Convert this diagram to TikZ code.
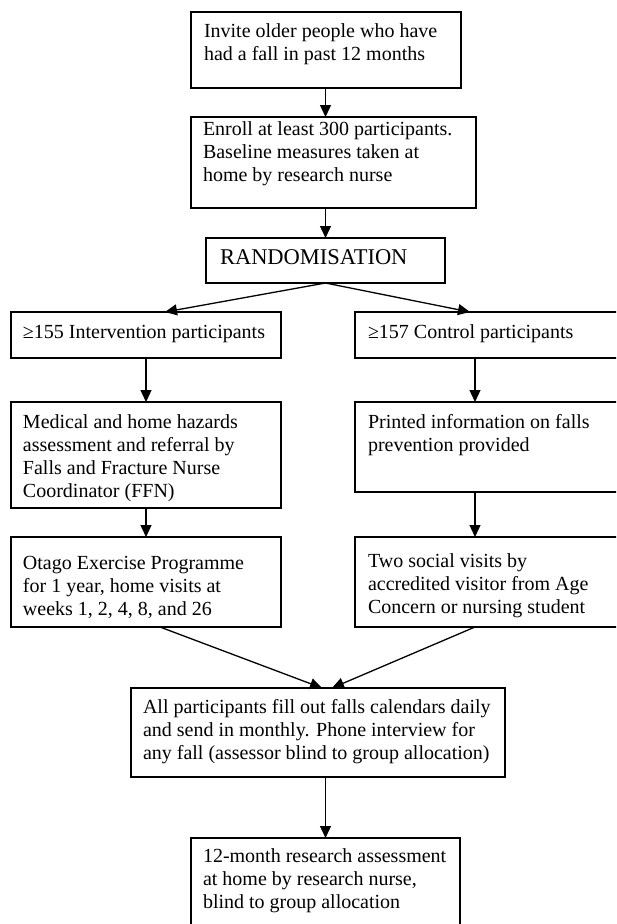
\documentclass[tikz,border=0pt]{standalone}
\usepackage{fontspec}
\setmainfont{Liberation Serif}
\usetikzlibrary{arrows.meta}
\newcommand{\boxlines}[1]{\parbox[t]{420pt}{\raggedright #1}}
\tikzset{
  flowbox/.style={draw=black, line width=1.3pt, inner sep=0pt, outer sep=0pt, anchor=north west},
  flowtext/.style={inner sep=0pt, outer sep=0pt, anchor=base west, font=\fontsize{20}{23}\selectfont, text=black},
  flowarrow/.style={draw=black, line width=1.3pt, -{Triangle[length=12pt,width=11pt]}}
}
\begin{document}
\begin{tikzpicture}[x=1pt,y=-1pt]
\useasboundingbox (0,0) rectangle (616,924);
\clip (0,0) rectangle (616,924);
% boxes
\node[flowbox, minimum width=270pt, minimum height=76pt] (b1) at (191,12) {};
\node[flowbox, minimum width=285pt, minimum height=91pt] (b2) at (191,117) {};
\node[flowbox, minimum width=239pt, minimum height=45pt] (b3) at (206,238) {};
\node[flowbox, minimum width=270pt, minimum height=46pt] (bL1) at (11,312) {};
\node[flowbox, minimum width=280pt, minimum height=46pt] (bR1) at (355,312) {};
\node[flowbox, minimum width=270pt, minimum height=106pt] (bL2) at (11,402) {};
\node[flowbox, minimum width=280pt, minimum height=90pt] (bR2) at (355,402) {};
\node[flowbox, minimum width=270pt, minimum height=90pt] (bL3) at (11,537) {};
\node[flowbox, minimum width=280pt, minimum height=90pt] (bR3) at (355,537) {};
\node[flowbox, minimum width=374pt, minimum height=89pt] (b4) at (131,688) {};
\node[flowbox, minimum width=269pt, minimum height=110pt] (b5) at (191,838) {};
% texts
\node[flowtext] (t1) at (204,37) {\boxlines{Invite older people who have\\had a fall in past 12 months}};
\node[flowtext] (t2) at (203,135) {\boxlines{Enroll at least 300 participants.\\Baseline measures taken at\\home by research nurse}};
\node[flowtext, font=\fontsize{22.5}{26}\selectfont] (t3) at (220,264) {RANDOMISATION};
\node[flowtext] (tL1) at (23,338) {≥155 Intervention participants};
\node[flowtext] (tR1) at (368,338) {≥157 Control participants};
\node[flowtext] (tL2) at (23,428) {\boxlines{Medical and home hazards\\assessment and referral by\\Falls and Fracture Nurse\\Coordinator (FFN)}};
\node[flowtext] (tR2) at (368,428) {\boxlines{Printed information on falls\\prevention provided}};
\node[flowtext] (tL3) at (23,569) {\boxlines{Otago Exercise Programme\\for 1 year, home visits at\\weeks 1, 2, 4, 8, and 26}};
\node[flowtext] (tR3) at (368,567) {\boxlines{Two social visits by\\accredited visitor from Age\\Concern or nursing student}};
\node[flowtext] (t4) at (143,713) {\boxlines{All participants fill out falls calendars daily\\and send in monthly. Phone interview for\\any fall (assessor blind to group allocation)}};
\node[flowtext] (t5) at (203,862) {\boxlines{12-month research assessment\\at home by research nurse,\\blind to group allocation}};
% connector points
\coordinate (splitL) at (165,312);
\coordinate (splitR) at (470,312);
\coordinate (colR) at (475,0);
\coordinate (outL) at (160,627);
\coordinate (inL) at (322,688);
\coordinate (inR) at (332,688);
% arrows
\draw[flowarrow] (b3.north |- b1.south) -- (b3.north |- b2.north);
\draw[flowarrow] (b3.north |- b2.south) -- (b3.north);
\draw[flowarrow] (b3.south) -- (splitL);
\draw[flowarrow] (b3.south) -- (splitR);
\draw[flowarrow] (bL1.south) -- (bL2.north);
\draw[flowarrow] (bL2.south) -- (bL3.north);
\draw[flowarrow] (colR |- bR1.south) -- (colR |- bR2.north);
\draw[flowarrow] (colR |- bR2.south) -- (colR |- bR3.north);
\draw[flowarrow] (outL) -- (inL);
\draw[flowarrow] (colR |- bR3.south) -- (inR);
\draw[flowarrow] (b3.north |- b4.south) -- (b3.north |- b5.north);
\end{tikzpicture}
\end{document}
